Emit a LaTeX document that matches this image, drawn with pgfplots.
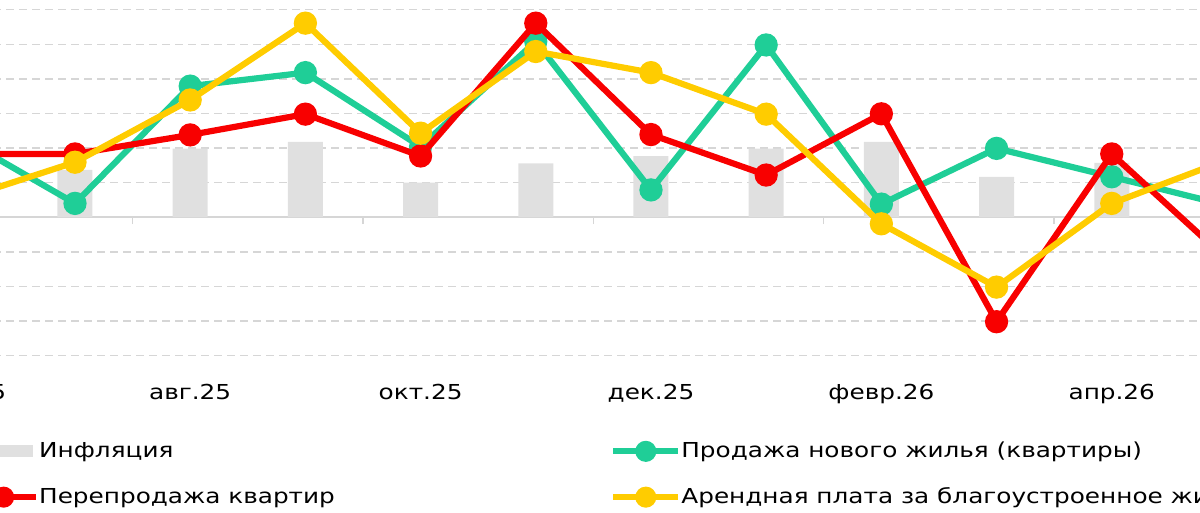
\documentclass[border=0pt]{standalone}
\usepackage{fontspec}
\setmainfont{DejaVu Sans}[FakeStretch=1.2]
\usepackage{pgfplots}
\pgfplotsset{compat=1.18}
\definecolor{cgreen}{HTML}{1FCE97}
\definecolor{cred}{HTML}{F80000}
\definecolor{cyellow}{HTML}{FFCC00}
\definecolor{cbar}{HTML}{E0E0E0}
\definecolor{cgrid}{HTML}{D6D6D6}
\newcommand{\lf}{\fontsize{10.3pt}{12pt}\selectfont}
\pgfplotsset{
  legend image code/.code={\draw[mark repeat=2,mark phase=2,#1] plot coordinates {(0pt,0pt) (16.25pt,0pt) (32.5pt,0pt)};}
}
\begin{document}
\begin{tikzpicture}
\useasboundingbox (0pt,0pt) rectangle (600pt,256.5pt);
\clip (0pt,0pt) rectangle (600pt,256.5pt);
\begin{axis}[
  at={(-48.9pt,73.5pt)}, anchor=south west,
  scale only axis, width=648.9pt, height=183pt,
  xmin=-0.5, xmax=10.766, ymin=-4.3, ymax=6.28,
  axis x line*=middle, axis y line*=left,
  y axis line style={draw=none},
  x axis line style={cgrid, line width=0.9pt},
  xtick={-0.5,1.5,3.5,5.5,7.5,9.5}, xticklabels={},
  tick align=outside, major tick length=3.5pt,
  xtick style={cgrid, line width=0.7pt},
  extra x ticks={0,2,4,6,8,10},
  extra x tick labels={июн.25,авг.25,окт.25,дек.25,февр.26,апр.26},
  extra x tick style={major tick length=0pt, xticklabel style={anchor=base, yshift=-91pt}},
  ytick={-4,-3,...,6}, yticklabels={}, ytick style={draw=none},
  ymajorgrids, grid style={cgrid, line width=0.75pt, dash pattern=on 4pt off 2.5pt},
  clip marker paths=true,
  tick label style={font=\lf},
  legend columns=2,
  legend cell align=left,
  legend style={at={(0.0507,-0.2077)}, anchor=north west, draw=none, fill=none,
    inner sep=0pt, outer sep=0pt, font=\lf, row sep=13.5pt,
    nodes={inner sep=0pt},
    /tikz/every odd column/.append style={column sep=0pt}},
  legend image post style={mark size=3.7pt},
  every axis plot/.append style={line width=3.1pt, mark=*, mark size=4.25pt, mark options={solid, draw=none}},
]
% Inflation bars
\addplot[ybar, bar width=17.5pt, fill=cbar, draw=none, mark=none, line width=0pt,
  legend image code/.code={\fill[cbar] (0pt,-3pt) rectangle (31pt,3pt);}]
  coordinates {(0,1.5) (1,1.37) (2,1.98) (3,2.18) (4,1.00) (5,1.56) (6,1.77) (7,1.98) (8,2.18) (9,1.17) (10,1.57) (11,1.3)};
\addlegendentry{\makebox[285.5pt][l]{Инфляция}}
% New housing sales
\addplot[cgreen, mark options={fill=cgreen}]
  coordinates {(0,2.32) (1,0.40) (2,3.79) (3,4.18) (4,2.04) (5,5.08) (6,0.79) (7,4.98) (8,0.38) (9,1.99) (10,1.17) (11,0.34)};
\addlegendentry{Продажа нового жилья (квартиры)}
% Resale apartments
\addplot[cred, mark options={fill=cred}]
  coordinates {(0,1.83) (1,1.83) (2,2.38) (3,2.98) (4,1.77) (5,5.61) (6,2.39) (7,1.22) (8,2.99) (9,-3.02) (10,1.83) (11,-1.22)};
\addlegendentry{\makebox[285.5pt][l]{Перепродажа квартир}}
% Rent
\addplot[cyellow, mark options={fill=cyellow}]
  coordinates {(0,0.51) (1,1.59) (2,3.39) (3,5.61) (4,2.43) (5,4.79) (6,4.18) (7,2.98) (8,-0.19) (9,-2.02) (10,0.40) (11,1.66)};
\addlegendentry{Арендная плата за благоустроенное жилье}
\end{axis}
\end{tikzpicture}
\end{document}
